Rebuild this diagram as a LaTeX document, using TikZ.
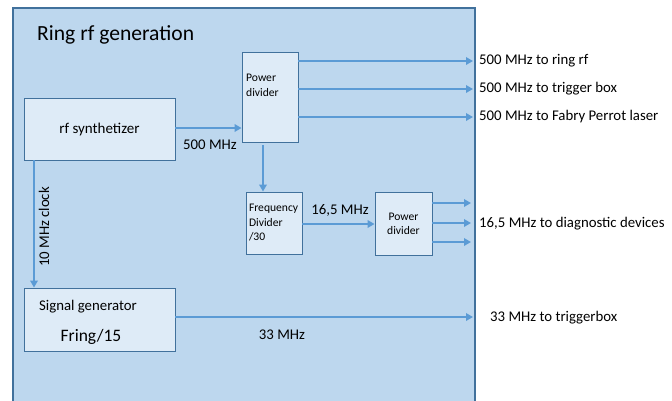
\documentclass[tikz,border=0pt]{standalone}
\usepackage{fontspec}
\setmainfont{Carlito}
\usetikzlibrary{arrows.meta}
\definecolor{bgblue}{HTML}{BDD7EE}
\definecolor{boxblue}{HTML}{DEEBF7}
\definecolor{edgeblue}{HTML}{41719C}
\definecolor{arrblue}{HTML}{5B9BD5}
\tikzset{
  blk/.style={draw=edgeblue, line width=0.9pt, fill=boxblue, rectangle, inner sep=2pt},
  sig/.style={draw=arrblue, line width=2.3pt, -{Triangle[length=7pt,width=7.5pt]}},
  lbl/.style={inner sep=0pt, font=\fontsize{14.8}{17}\selectfont},
  outlbl/.style={lbl, anchor=west},
  small/.style={font=\fontsize{11.6}{14.5}\selectfont, align=left, inner sep=0pt}
}
\begin{document}
\begin{tikzpicture}[x=1pt,y=-1pt]
\useasboundingbox (0,0) rectangle (672,400);
\clip (0,0) rectangle (672,400);
\fill[white] (0,0) rectangle (672,400);
\draw[draw=edgeblue, line width=1.2pt, fill=bgblue] (13,8) rectangle (475,410);
\node[anchor=west, inner sep=0pt, font=\fontsize{21.6}{24}\selectfont] (title) at (37,35) {Ring rf generation};

\node[blk, minimum width=151pt, minimum height=62pt, font=\fontsize{15}{17}\selectfont] (synth) at (99.5,129) {rf synthetizer};
\node[blk, minimum width=56pt, minimum height=90pt] (pd1) at (270,97) {};
\node[small, anchor=north west] (pd1t) at (246,74) {Power\\divider};
\node[blk, minimum width=56pt, minimum height=62pt, small, inner sep=3pt, text width=50pt] (fd) at (274,223) {Frequency\\Divider\\/30};
\node[blk, minimum width=57pt, minimum height=63pt, small, align=center, inner sep=2pt] (pd2) at (403.5,224) {Power\\divider};
\node[blk, minimum width=151pt, minimum height=63pt] (sg) at (99.5,319.5) {};
\node[lbl] (sgt) at (88,307) {Signal generator};
\node[inner sep=0pt, font=\fontsize{17.5}{20}\selectfont] (sgf) at (91,337) {Fring/15};

% synth -> pd1
\draw[sig] (synth.east) ++(0,-1) coordinate (s1) -- (s1 -| pd1.west);
\node[lbl] (l500) at (210,145) {500 MHz};

% pd1 outputs
\coordinate (o1) at (473,61);
\coordinate (o2) at (473,89);
\coordinate (o3) at (473,117);
\draw[sig] (pd1.east |- o1) -- (o1);
\draw[sig] (pd1.east |- o2) -- (o2);
\draw[sig] (pd1.east |- o3) -- (o3);
\node[outlbl] (t1) at (479,61) {500 MHz to ring rf};
\node[outlbl] (t2) at (479,89) {500 MHz to trigger box};
\node[outlbl] (t3) at (479,117) {500 MHz to Fabry Perrot laser};

% pd1 -> fd
\coordinate (dx) at (263,0);
\draw[sig] (pd1.south -| dx) ++(0,3) coordinate (d1) -- (fd.north -| dx);

% fd -> pd2
\draw[sig] (fd.east |- pd2.west) -- (pd2.west);
\node[lbl] (l165) at (340,210) {16,5 MHz};

% pd2 outputs
\coordinate (p1) at (471,203);
\coordinate (p2) at (471,223);
\coordinate (p3) at (471,242);
\draw[sig] (pd2.east |- p1) -- (p1);
\draw[sig] (pd2.east |- p2) -- (p2);
\draw[sig] (pd2.east |- p3) -- (p3);
\node[outlbl] (t4) at (479,224) {16,5 MHz to diagnostic devices};

% synth -> sg
\coordinate (cx) at (34,0);
\draw[sig] (synth.south -| cx) -- (sg.north -| cx);
\node[lbl, rotate=90] (l10) at (44,227) {10 MHz clock};

% sg -> out
\coordinate (o4) at (473,317);
\draw[sig] (sg.east |- o4) -- (o4);
\node[lbl] (l33) at (282,335) {33 MHz};
\node[outlbl] (t5) at (490,318) {33 MHz to triggerbox};
\end{tikzpicture}
\end{document}
